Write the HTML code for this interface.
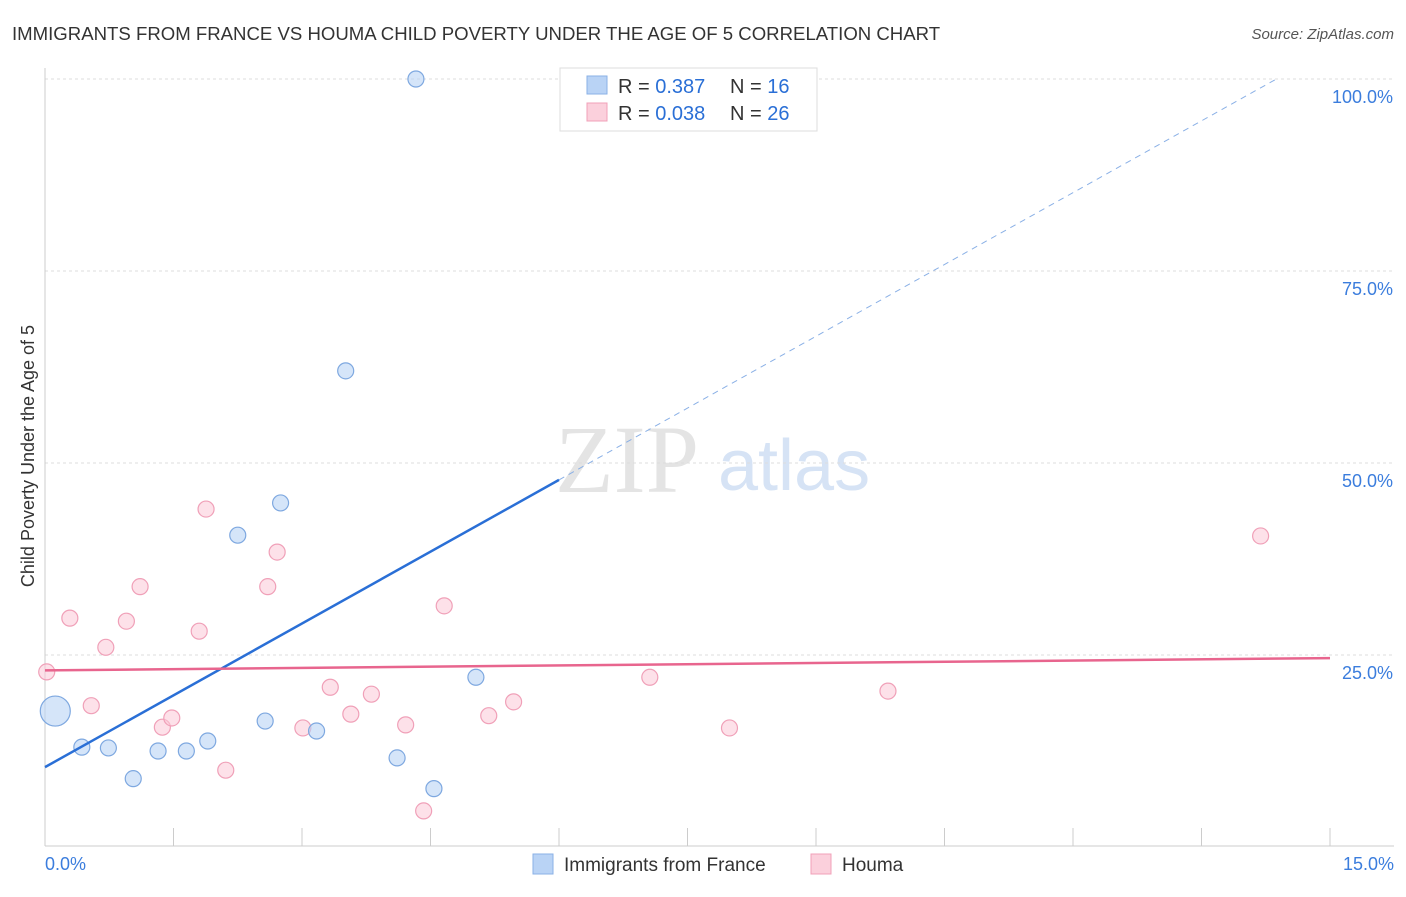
<!DOCTYPE html>
<html><head><meta charset="utf-8"><style>
body{margin:0;background:#fff;font-family:"Liberation Sans",sans-serif;}
svg text{font-family:"Liberation Sans",sans-serif;}
</style></head><body>
<svg id="c" width="1406" height="892" xmlns="http://www.w3.org/2000/svg">
<text x="12" y="40" font-size="18.6" fill="#333">IMMIGRANTS FROM FRANCE VS HOUMA CHILD POVERTY UNDER THE AGE OF 5 CORRELATION CHART</text>
<text x="1394" y="39" font-size="15" fill="#555" font-style="italic" text-anchor="end">Source: ZipAtlas.com</text>
<text x="34" y="456" font-size="18" fill="#333" text-anchor="middle" transform="rotate(-90 34 456)">Child Poverty Under the Age of 5</text>
<g><text x="555" y="492" font-size="96" fill="#e4e4e4" style="font-family:'Liberation Serif',serif">ZIP</text><text x="718" y="490" font-size="72" fill="#d6e3f5">atlas</text></g>
<g id="grid"></g><g id="marks"></g>
<g>
<rect x="560" y="68" width="257" height="63" fill="#fff" stroke="#ddd"/>
<rect x="587" y="76" width="20" height="18" fill="#b9d3f5" stroke="#8ab0e6"/>
<text x="618" y="93" font-size="20" fill="#333">R = <tspan fill="#2a6fd6">0.387</tspan></text>
<text x="730" y="93" font-size="20" fill="#333">N = <tspan fill="#2a6fd6">16</tspan></text>
<rect x="587" y="103" width="20" height="18" fill="#fbd0dc" stroke="#f0a0b8"/>
<text x="618" y="120" font-size="20" fill="#333">R = <tspan fill="#2a6fd6">0.038</tspan></text>
<text x="730" y="120" font-size="20" fill="#333">N = <tspan fill="#2a6fd6">26</tspan></text>
</g>
<g>
<rect x="533" y="854" width="20" height="20" fill="#b9d3f5" stroke="#8ab0e6"/>
<text x="564" y="871" font-size="19" fill="#333">Immigrants from France</text>
<rect x="811" y="854" width="20" height="20" fill="#fbd0dc" stroke="#f0a0b8"/>
<text x="842" y="871" font-size="19" fill="#333">Houma</text>
</g>
</svg>
<script>
const blueX=[4.33,3.51,2.75,2.25,5.03,2.57,3.17,1.90,0.43,0.74,1.32,1.65,4.11,1.03,4.54,0.12];
const blueY=[100,62.0,44.8,40.6,22.1,16.4,15.1,13.8,13.0,12.9,12.5,12.5,11.6,8.9,7.6,17.7];
const blueR=[8,8,8,8,8,8,8,8,8,8,8,8,8,8,8,15];
const pinkX=[0.02,0.29,0.54,0.71,0.95,1.11,1.37,1.48,1.80,1.88,2.11,2.60,2.71,3.01,3.33,3.57,3.81,4.21,4.42,4.66,5.18,5.47,7.06,7.99,9.84,14.19];
const pinkY=[22.8,29.8,18.4,26.0,29.4,33.9,15.6,16.8,28.1,44.0,10.0,33.9,38.4,15.5,20.8,17.3,19.9,15.9,4.7,31.4,17.1,18.9,22.1,15.5,20.3,40.5];
const yTicks=[25,50,75,100];
const yTickLabels=["25.0%","50.0%","75.0%","100.0%"];
const blueTrend=[10.4,47.8];
const pinkTrend=[23.0,24.6];
const xs=v=>45+v*85.667, ys=v=>847-v*7.68;
const NS="http://www.w3.org/2000/svg";
const g=document.getElementById('grid'), m=document.getElementById('marks');
function el(t,a,p){const e=document.createElementNS(NS,t);for(const k in a)e.setAttribute(k,a[k]);p.appendChild(e);return e;}
yTicks.forEach((t,i)=>{
 const l=el('line',{x1:45,x2:1394,y1:ys(t),y2:ys(t),stroke:'#ddd','stroke-dasharray':'3,3'},g);
 
 
 const tx=el('text',{x:1393,y:ys(t)+24,'font-size':18,fill:'#3b7ddd','text-anchor':'end'},g);tx.textContent=yTickLabels[i];
 
 
});
el('line',{x1:45,x2:45,y1:68,y2:846,stroke:'#ccc'},g);
el('line',{x1:45,x2:1394,y1:846,y2:846,stroke:'#ccc'},g);
for(let i=1;i<=10;i++){const tk=el('line',{x1:xs(i*1.5),x2:xs(i*1.5),y1:828,y2:846,stroke:'#ccc'},g);
 
 }
let t0=el('text',{x:45,y:870,'font-size':18,fill:'#3b7ddd'},g);t0.textContent='0.0%';


let t1=el('text',{x:1394,y:870,'font-size':18,fill:'#3b7ddd','text-anchor':'end'},g);t1.textContent='15.0%';


pinkX.forEach((x,i)=>{const c=el('circle',{cx:xs(x),cy:ys(pinkY[i]),r:8,fill:'rgba(251,200,215,0.55)',stroke:'#f0a0b8','stroke-width':1.2},m);
 
 });
blueX.forEach((x,i)=>{const c=el('circle',{cx:xs(x),cy:ys(blueY[i]),r:blueR[i],fill:'rgba(185,211,245,0.6)',stroke:'#7ea8e0','stroke-width':1.2},m);
 
 });
const bs=(blueTrend[1]-blueTrend[0])/6, by=x=>blueTrend[0]+bs*x;
const xEnd=(100-blueTrend[0])/bs;
let bl=el('line',{x1:xs(0),y1:ys(by(0)),x2:xs(6),y2:ys(by(6)),stroke:'#2a6fd6','stroke-width':2.5},m);


let bd=el('line',{x1:xs(6),y1:ys(by(6)),x2:xs(xEnd),y2:ys(100),stroke:'#8ab0e6','stroke-width':1,'stroke-dasharray':'6,5'},m);


let pl=el('line',{x1:xs(0),y1:ys(pinkTrend[0]),x2:xs(15),y2:ys(pinkTrend[1]),stroke:'#e8658e','stroke-width':2.5},m);


</script>
</body></html>
